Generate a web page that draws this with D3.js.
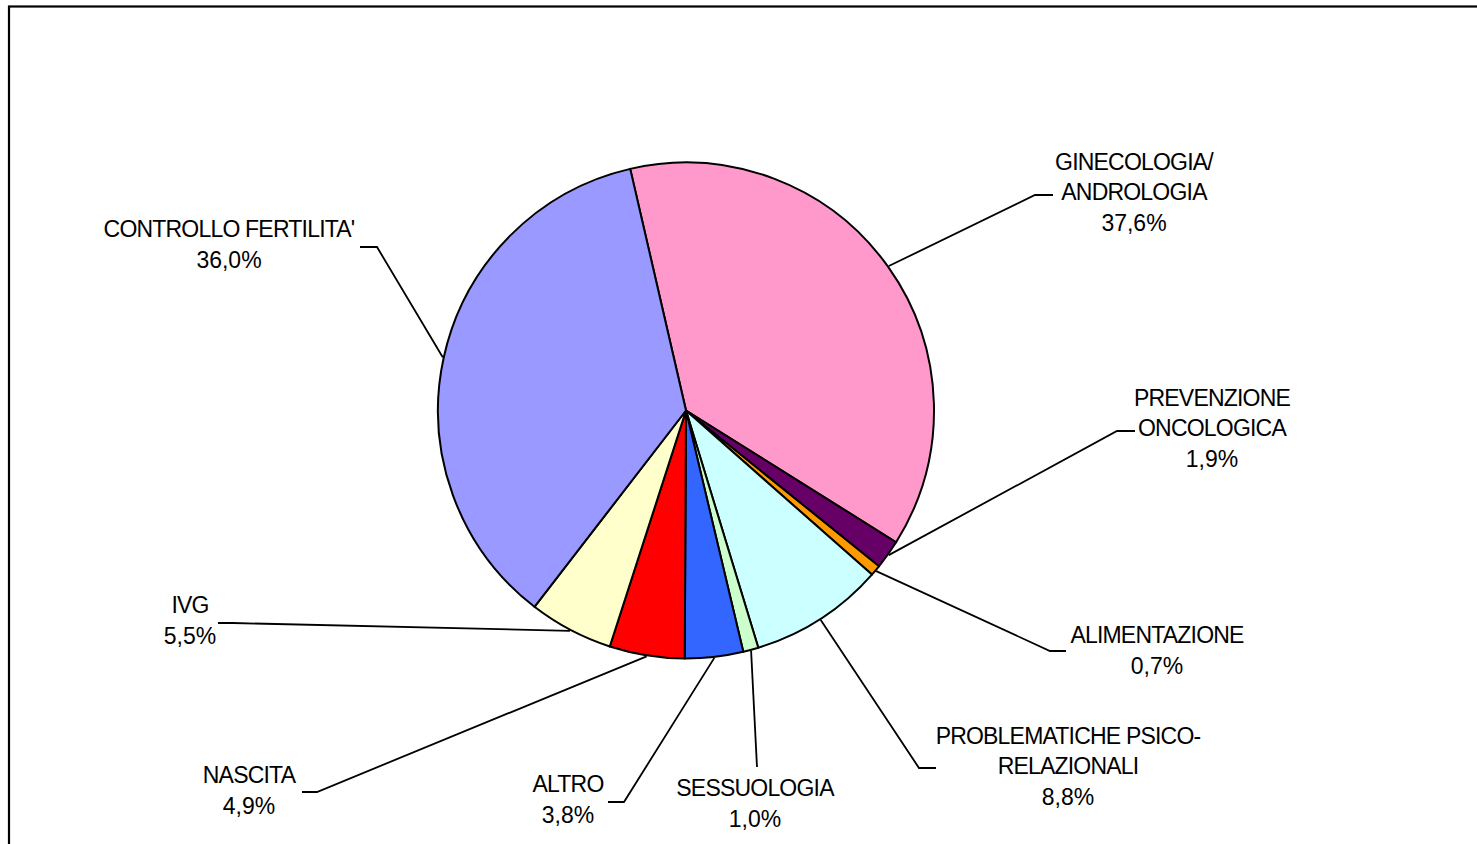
<!DOCTYPE html>
<html>
<head>
<meta charset="utf-8">
<script src="https://cdn.jsdelivr.net/npm/d3@7/dist/d3.min.js"></script>
<style>
  html, body { margin: 0; padding: 0; background: #fff; }
  svg { display: block; }
  text { font-family: Arial, "Liberation Sans", sans-serif; font-size: 23px; fill: #000; }
</style>
</head>
<body>
<svg id="chart" width="1477" height="844"></svg>
<script>
// ---- data ----
const categories = [
  "GINECOLOGIA/ ANDROLOGIA",
  "PREVENZIONE ONCOLOGICA",
  "ALIMENTAZIONE",
  "PROBLEMATICHE PSICO-RELAZIONALI",
  "SESSUOLOGIA",
  "ALTRO",
  "NASCITA",
  "IVG",
  "CONTROLLO FERTILITA'"
];
const labelLines = [
  ["GINECOLOGIA/", "ANDROLOGIA"],
  ["PREVENZIONE", "ONCOLOGICA"],
  ["ALIMENTAZIONE"],
  ["PROBLEMATICHE PSICO-", "RELAZIONALI"],
  ["SESSUOLOGIA"],
  ["ALTRO"],
  ["NASCITA"],
  ["IVG"],
  ["CONTROLLO FERTILITA'"]
];
const values = [37.6, 1.9, 0.7, 8.8, 1.0, 3.8, 4.9, 5.5, 36.0];
const colors = ["#FF99CC", "#660066", "#FF9900", "#CCFFFF", "#CCFFCC", "#3366FF", "#FF0000", "#FFFFCC", "#9999FF"];

// ---- layout (label positions: text center x, first baseline y, leader elbow and end) ----
const labelLayout = [
  { cx: 1134, by: 170, ex: 1035, ey: 195, hx: 1053 },
  { cx: 1212, by: 406, ex: 1117, ey: 431, hx: 1135 },
  { cx: 1157, by: 643, ex: 1050, ey: 651, hx: 1066 },
  { cx: 1068, by: 744, ex: 919,  ey: 768, hx: 936 },
  { cx: 755,  by: 796, ex: 757,  ey: 767, hx: 757 },
  { cx: 568,  by: 792, ex: 624,  ey: 802, hx: 608 },
  { cx: 249,  by: 783, ex: 317,  ey: 792, hx: 302 },
  { cx: 190,  by: 613, ex: 233,  ey: 623, hx: 218 },
  { cx: 229,  by: 237, ex: 377,  ey: 247, hx: 360 }
];

const W = 1477, H = 844;
const cx = 686, cy = 410.5, R = 248;
const startDeg = -13;

const svg = d3.select("#chart");

// frame
svg.append("rect")
  .attr("x", 9).attr("y", 6.5)
  .attr("width", W + 20).attr("height", H + 20)
  .attr("fill", "none").attr("stroke", "#000").attr("stroke-width", 2.2);

const fmt = v => d3.format(".1f")(v).replace(".", ",") + "%";

const pie = d3.pie().sort(null).value(d => d)
  .startAngle(startDeg * Math.PI / 180)
  .endAngle((startDeg + 360) * Math.PI / 180);
const arcs = pie(values);
const arc = d3.arc().innerRadius(0).outerRadius(R);

const g = svg.append("g").attr("transform", `translate(${cx},${cy})`);

g.selectAll("path.slice")
  .data(arcs)
  .join("path")
  .attr("class", "slice")
  .attr("d", arc)
  .attr("fill", (d, i) => colors[i])
  .attr("stroke", "#000")
  .attr("stroke-width", 2)
  .attr("stroke-linejoin", "round");

// leader lines
const edgeArc = d3.arc().innerRadius(R + 1).outerRadius(R + 1);
const lines = svg.append("g");
arcs.forEach((d, i) => {
  const L = labelLayout[i];
  const mid = (d.startAngle + d.endAngle) / 2;
  const px = cx + (R + 1) * Math.sin(mid);
  const py = cy - (R + 1) * Math.cos(mid);
  const pts = [[px, py], [L.ex, L.ey], [L.hx, L.ey]];
  lines.append("path")
    .attr("d", d3.line()(pts))
    .attr("fill", "none")
    .attr("stroke", "#000")
    .attr("stroke-width", 1.8);
});

// labels
const labs = svg.append("g");
arcs.forEach((d, i) => {
  const L = labelLayout[i];
  const t = labs.append("text").attr("text-anchor", "middle");
  labelLines[i].forEach((ln, k) => {
    t.append("tspan")
      .attr("x", L.cx)
      .attr("y", L.by + k * 30)
      .attr("letter-spacing", "-0.8px")
      .text(ln);
  });
  t.append("tspan")
    .attr("x", L.cx)
    .attr("y", L.by + (labelLines[i].length - 1) * 30 + 31)
    .text(fmt(values[i]));
});
</script>
</body>
</html>
